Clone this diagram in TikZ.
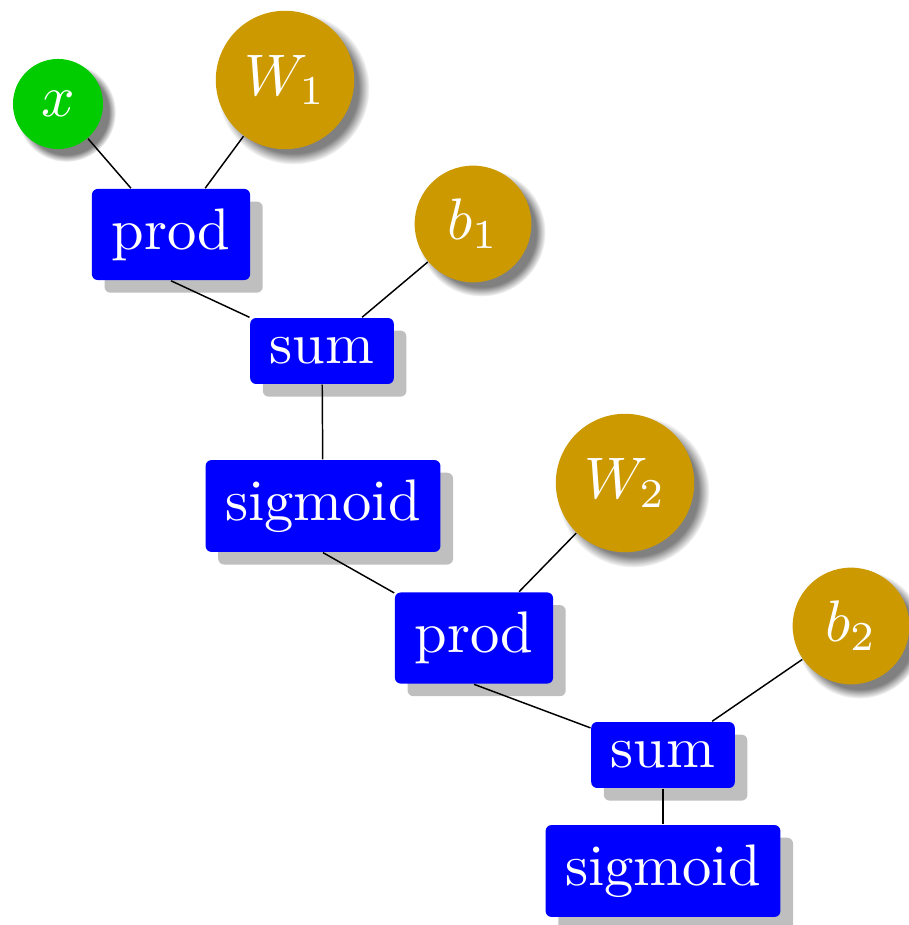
\documentclass[tikz,border=0pt]{standalone}
\usetikzlibrary{shadows}

\definecolor{verde}{RGB}{0,204,0}
\definecolor{oro}{RGB}{204,153,0}

\tikzset{
    op/.style={fill=blue, text=white, rounded corners=1pt,
        drop shadow={fill=black!25, opacity=1}},
    ingresso/.style={circle, fill=verde, text=white, inner sep=1pt, circular drop shadow},
    peso/.style={circle, fill=oro, text=white, inner sep=1pt, circular drop shadow},
}

\begin{document}
\begin{tikzpicture}[x=0.006cm, y=-0.006cm, line width=0.25pt]
                \useasboundingbox (0,0) rectangle (909,925);
                %primo strato
                \node[ingresso, minimum size=0.54cm] (x) at (58,104) {$x$};
                \node[peso, minimum size=0.83cm] (W1) at (285,80) {$W_1$};
                \node[op] (prod1) at (171,234.5) {prod};
                \node[peso, minimum size=0.70cm] (b1) at (473,224) {$b_1$};
                \node[op] (sum1) at (322,351) {sum};
                \node[op] (sig1) at (323,506) {sigmoid};

                %secondo strato
                \node[peso, minimum size=0.83cm] (W2) at (625,483) {$W_2$};
                \node[op] (prod2) at (474,638) {prod};
                \node[peso, minimum size=0.70cm] (b2) at (851,626) {$b_2$};
                \node[op] (sum2) at (663,755) {sum};
                \node[op] (sig2) at (663,871) {sigmoid};

                \draw (x) -- (prod1);
                \draw (W1) -- (prod1);
                \draw (prod1.south) -- (sum1);
                \draw (b1) -- (sum1);
                \draw (sum1) -- (sig1);
                \draw (sig1.south) -- (prod2);
                \draw (W2) -- (prod2);
                \draw (prod2.south) -- (sum2);
                \draw (b2) -- (sum2);
                \draw (sum2) -- (sig2);

            \end{tikzpicture}
\end{document}
